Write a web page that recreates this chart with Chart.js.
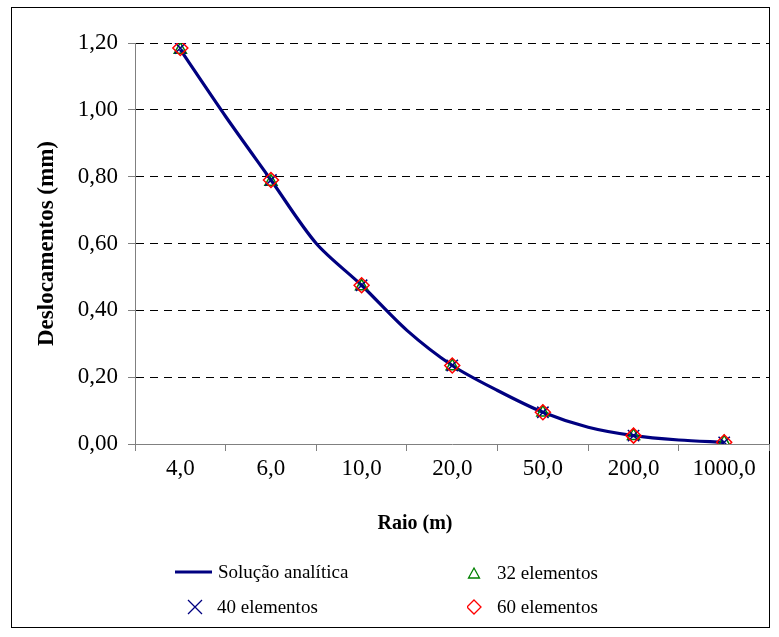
<!DOCTYPE html>
<html>
<head>
<meta charset="utf-8">
<script src="https://cdn.jsdelivr.net/npm/chart.js@4.4.0/dist/chart.umd.min.js"></script>
<style>
  body { margin: 0; background: #fff; }
  #wrap { position: relative; width: 779px; height: 637px; font-family: "Liberation Serif", serif; }
  #frame { position: absolute; left: 11px; top: 7px; width: 759px; height: 621px; border: 1px solid #000; box-sizing: border-box; }
  #grafico { position: absolute; left: 0; top: 0; }
  .item { position: absolute; height: 30px; display: flex; align-items: center; font-size: 19px; color: #000; white-space: nowrap; }
  .item svg { position: absolute; }
  #tituloX { position: absolute; left: 315px; width: 200px; top: 508px; height: 28px; line-height: 28px; text-align: center; font-size: 20px; font-weight: bold; }
</style>
</head>
<body>
<div id="wrap">
  <div id="frame"></div>
  <canvas id="grafico" width="779" height="637"></canvas>
  <div id="tituloX">Raio (m)</div>

  <div class="item" style="left:175px; top:557px;">
    <svg width="37" height="30" style="left:0; top:0"><line x1="0" y1="15" x2="37" y2="15" stroke="#000080" stroke-width="3"/></svg>
    <span style="margin-left:43px">Solução analítica</span>
  </div>
  <div class="item" style="left:467px; top:558px;">
    <svg width="14" height="30" style="left:0; top:0"><polygon points="7,10 12.5,20 1.5,20" fill="none" stroke="#008000" stroke-width="1.3"/></svg>
    <span style="margin-left:30px">32 elementos</span>
  </div>
  <div class="item" style="left:187px; top:592px;">
    <svg width="16" height="30" style="left:0; top:0"><path d="M1,8 L15,22 M15,8 L1,22" stroke="#000080" stroke-width="1.3"/></svg>
    <span style="margin-left:30px">40 elementos</span>
  </div>
  <div class="item" style="left:467px; top:592px;">
    <svg width="16" height="30" style="left:0; top:0"><polygon points="7,8 14,15 7,22 0,15" fill="none" stroke="#ff0000" stroke-width="1.3"/></svg>
    <span style="margin-left:30px">60 elementos</span>
  </div>
</div>

<script>
// raio (m) - eixo de categorias
const raios = ['4,0', '6,0', '10,0', '20,0', '50,0', '200,0', '1000,0'];

// solucao analitica: pontos nas categorias e entre elas
const posAnalitica = [0, 0.5, 1, 1.5, 2, 2.5, 3, 3.5, 4, 4.5, 5, 5.5, 6];
const analitica = [1.18, 0.98, 0.79, 0.60, 0.475, 0.34, 0.235, 0.16, 0.095, 0.05, 0.025, 0.012, 0.005];

// deslocamentos numericos (mm)
const elem32 = [1.18, 0.785, 0.472, 0.233, 0.094, 0.024, 0.005];
const elem40 = [1.185, 0.79, 0.475, 0.235, 0.095, 0.025, 0.005];
const elem60 = [1.185, 0.79, 0.475, 0.235, 0.095, 0.025, 0.005];

const yTicks = [0, 0.2, 0.4, 0.6, 0.8, 1.0, 1.2];

const fonte = { family: 'Liberation Serif', size: 23 };
const fonteTituloY = { family: 'Liberation Serif', size: 23, weight: 'bold' };

const pontos = (arr) => arr.map((v, i) => ({ x: i, y: v }));

const config = {
    type: 'line',
    data: {
        datasets: [{
            label: 'Solução analítica',
            data: posAnalitica.map((x, i) => ({ x: x, y: analitica[i] })),
            borderColor: '#000080',
            borderWidth: 3.2,
            pointRadius: 0,
            tension: 0.3,
            order: 4
        }, {
            label: '32 elementos',
            data: pontos(elem32),
            showLine: false,
            pointStyle: 'triangle',
            pointRadius: 7,
            borderColor: '#008000',
            backgroundColor: 'rgba(0,0,0,0)',
            pointBorderWidth: 1.5,
            order: 3
        }, {
            label: '40 elementos',
            data: pontos(elem40),
            showLine: false,
            pointStyle: 'crossRot',
            pointRadius: 8,
            borderColor: '#000080',
            pointBorderWidth: 1.5,
            order: 2
        }, {
            label: '60 elementos',
            data: pontos(elem60),
            showLine: false,
            pointStyle: 'rectRot',
            pointRadius: 7.5,
            borderColor: '#ff0000',
            backgroundColor: 'rgba(0,0,0,0)',
            pointBorderWidth: 1.5,
            order: 1
        }]
    },
    options: {
        responsive: false,
        animation: false,
        layout: { padding: { left: 0, right: 9, top: 43, bottom: 100 } },
        plugins: { legend: { display: false }, tooltip: { enabled: false } },
        scales: {
            x: {
                type: 'linear',
                min: -0.5,
                max: raios.length - 0.5,
                afterBuildTicks: (s) => {
                    const t = [];
                    for (let i = 0; i <= raios.length * 2; i++) t.push({ value: -0.5 + i * 0.5 });
                    s.ticks = t;
                },
                afterFit: (s) => { s.height = 93; },
                ticks: {
                    autoSkip: false,
                    maxRotation: 0,
                    padding: 4,
                    color: '#000',
                    font: fonte,
                    callback: (v) => Number.isInteger(v) ? raios[v] : ''
                },
                grid: {
                    drawOnChartArea: false,
                    tickLength: 7,
                    tickWidth: 1,
                    tickColor: (ctx) => Number.isInteger(ctx.tick.value) ? 'rgba(0,0,0,0)' : '#808080'
                },
                border: { color: '#808080', width: 1 }
            },
            y: {
                min: 0,
                max: 1.2,
                afterBuildTicks: (s) => { s.ticks = yTicks.map(v => ({ value: v })); },
                afterFit: (s) => { s.width = 135; },
                ticks: {
                    padding: 10,
                    color: '#000',
                    font: fonte,
                    callback: (v) => v.toFixed(2).replace('.', ',')
                },
                grid: {
                    color: (ctx) => ctx.tick && ctx.tick.value === 0 ? 'rgba(0,0,0,0)' : '#000',
                    lineWidth: 1,
                    tickLength: 7,
                    tickColor: '#808080'
                },
                border: { color: '#808080', width: 1, dash: [8, 6] },
                title: { display: true, text: 'Deslocamentos (mm)', color: '#000', font: fonteTituloY, padding: { top: 33, bottom: 4 } }
            }
        }
    }
};

var chart = new Chart(document.getElementById('grafico'), config);
</script>
</body>
</html>
